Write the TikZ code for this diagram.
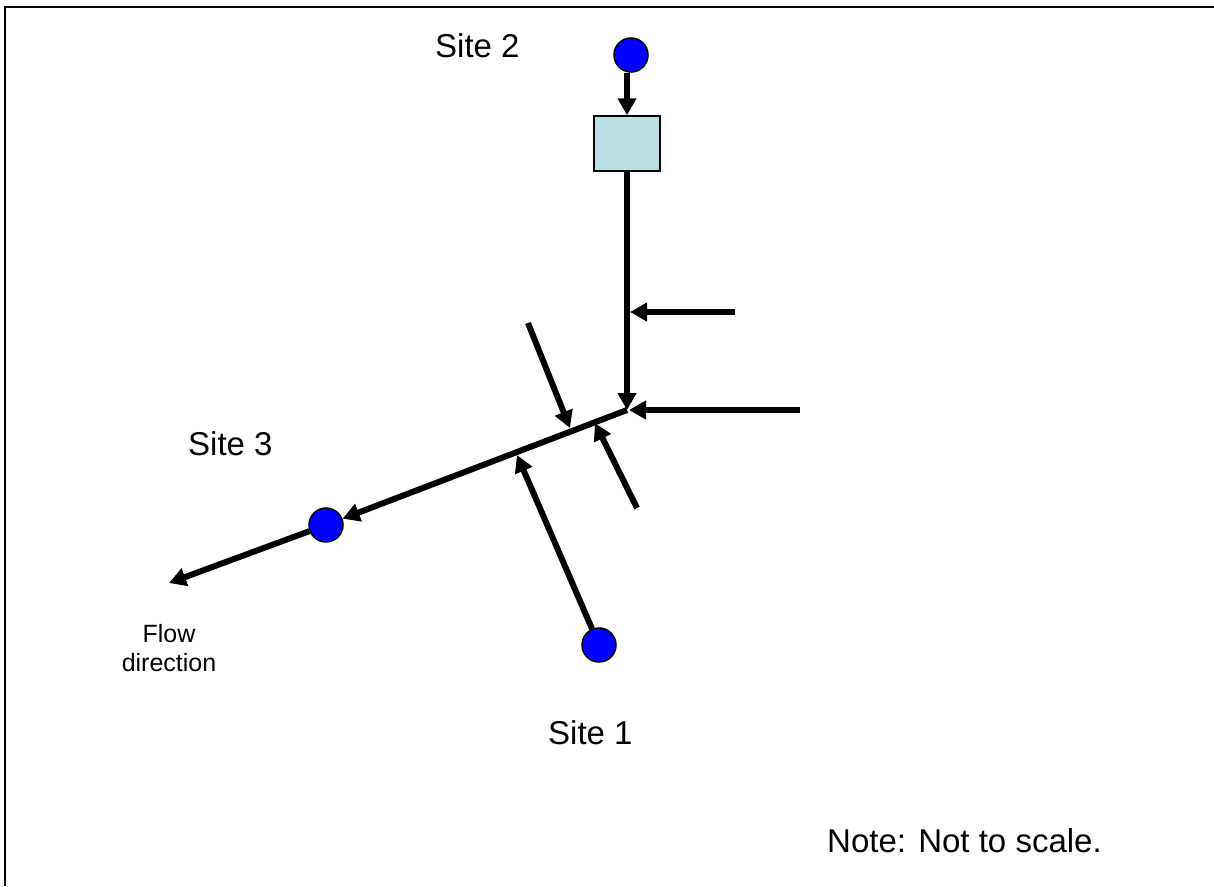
\documentclass[tikz,border=0pt]{standalone}
\usepackage{fontspec}
\setmainfont{Liberation Sans}
\usetikzlibrary{arrows.meta}
\definecolor{siteblue}{RGB}{0,0,255}
\definecolor{tankfill}{RGB}{187,224,227}
\tikzset{
  site/.style={circle, draw=black, line width=1.5pt, fill=siteblue, minimum size=34pt, inner sep=0pt},
  tankbox/.style={rectangle, draw=black, line width=1.5pt, fill=tankfill, minimum width=66pt, minimum height=55pt, inner sep=0pt},
  flow/.style={line width=6pt, -{Triangle[length=17pt,width=18pt]}},
  bigtext/.style={font=\fontsize{33}{38}\selectfont, inner sep=0pt, anchor=base west},
  smalltext/.style={font=\fontsize{25}{29}\selectfont, inner sep=0pt, align=center},
  frame/.style={line width=2.5pt}
}
\begin{document}
\begin{tikzpicture}[x=1pt,y=-1pt]
\useasboundingbox (0,0) rectangle (1214,886);
% frame (top and left edges)
\draw[frame] (1214,7) -- (5,7) -- (5,886);

% sites and tank
\node[site] (s2) at (631,55) {};
\node[tankbox] (tank) at (627,143.5) {};
\node[site] (s3) at (326,525) {};
\node[site] (s1) at (599,645) {};

% points
\coordinate (J) at (627,410);
\coordinate (F) at (169,583);
\coordinate (T1) at (630,312);
\coordinate (E1) at (735,312);
\coordinate (E2) at (800,410);
\coordinate (T2) at (629,410);
\coordinate (E3) at (528,323);
\coordinate (T3) at (570,428);
\coordinate (E4) at (637,508);
\coordinate (T4) at (595,423);
\coordinate (T5) at (517,455);

% connectors
\draw[flow] (tank.north |- s2.south) -- (tank.north);
\draw[flow] (tank.south) -- (J);
\draw[flow] (E1) -- (T1);
\draw[flow] (E2) -- (T2);
\draw[flow] (J) -- (s3);
\draw[flow] (s3) -- (F);
\draw[flow] (E3) -- (T3);
\draw[flow] (E4) -- (T4);
\draw[flow] (s1) -- (T5);

% labels
\node[bigtext] (l2) at (435,57) {Site 2};
\node[bigtext] (l3) at (188,455) {Site 3};
\node[bigtext] (l1) at (548,744) {Site 1};
\node[bigtext] (note) at (827,852) {Note: Not to scale.};
\node[smalltext] (fd) at (169,648) {Flow\\direction};
\end{tikzpicture}
\end{document}
